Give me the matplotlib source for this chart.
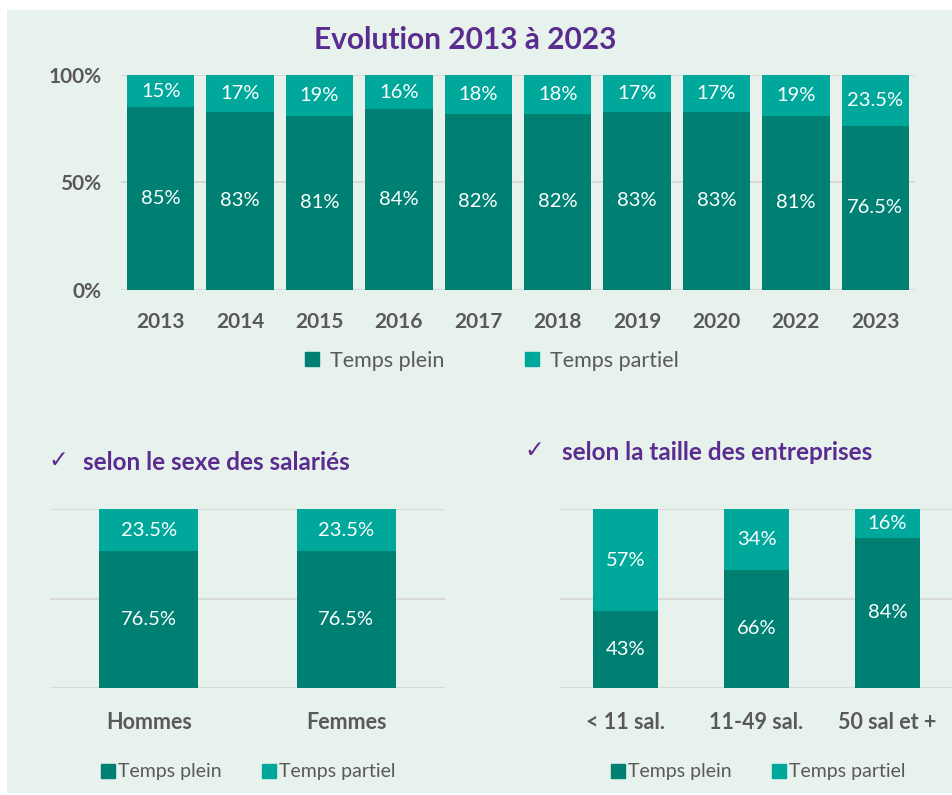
import matplotlib
matplotlib.use("Agg")
import matplotlib.pyplot as plt
from matplotlib.patches import Rectangle
from matplotlib.lines import Line2D

plt.rcParams['font.family'] = ['Lato', 'DejaVu Sans']

# ---- data ----
years = ["2013", "2014", "2015", "2016", "2017", "2018", "2019", "2020", "2022", "2023"]
plein_years = [85, 83, 81, 84, 82, 82, 83, 83, 81, 76.5]
partiel_years = [15, 17, 19, 16, 18, 18, 17, 17, 19, 23.5]

sexes = ["Hommes", "Femmes"]
plein_sexe = [76.5, 76.5]
partiel_sexe = [23.5, 23.5]

tailles = ["< 11 sal.", "11-49 sal.", "50 sal et +"]
plein_taille = [43, 66, 84]
partiel_taille = [57, 34, 16]

series_names = ["Temps plein", "Temps partiel"]
yticks_top = [0, 50, 100]
ytick_labels_top = ["0%", "50%", "100%"]

# ---- style ----
DARK = "#007F73"
LIGHT = "#00A89C"
BG = "#E8F2ED"
GRID = "#D9D9D9"
GRAY = "#595959"
PURPLE = "#5B2C8F"

W, H = 952, 795
fig = plt.figure(figsize=(W / 100, H / 100), dpi=100, facecolor="white")
fig.patches.append(Rectangle((7 / W, 2 / H), 1 - 7 / W, 1 - 12 / H,
                             transform=fig.transFigure, facecolor=BG,
                             edgecolor="none", zorder=-10))


def px_axes(x0, x1, ytop, ybot):
    return fig.add_axes([x0 / W, 1 - ybot / H, (x1 - x0) / W, (ybot - ytop) / H])


def draw(ax, cats, plein, partiel, width, lab_size, tick_size, pad):
    ax.set_facecolor("none")
    x = list(range(len(cats)))
    b1 = ax.bar(x, plein, width=width, color=DARK, zorder=3)
    b2 = ax.bar(x, partiel, width=width, bottom=plein, color=LIGHT, zorder=3)
    fmt = lambda v: f"{v:g}%"
    ax.bar_label(b1, labels=[fmt(v) for v in plein], label_type="center",
                 color="white", fontsize=lab_size)
    ax.bar_label(b2, labels=[fmt(v) for v in partiel], label_type="center",
                 color="white", fontsize=lab_size)
    ax.set_xlim(-0.5, len(cats) - 0.5)
    ax.set_ylim(0, 100)
    ax.set_yticks(yticks_top)
    ax.yaxis.grid(True, color=GRID, linewidth=1.6, zorder=0)
    ax.set_axisbelow(True)
    for s in ax.spines.values():
        s.set_visible(False)
    ax.set_xticks(x)
    ax.set_xticklabels(cats, fontsize=tick_size, fontweight="bold", color=GRAY)
    ax.tick_params(axis="x", length=0, pad=pad)
    ax.tick_params(axis="y", length=0)


# top chart
ax1 = px_axes(121, 915, 75, 290)
draw(ax1, years, plein_years, partiel_years, 0.85, 14.5, 15, 16)
ax1.set_yticklabels(ytick_labels_top, fontsize=15, fontweight="bold", color=GRAY)
ax1.tick_params(axis="y", pad=14)

# bottom left
ax2 = px_axes(50, 445, 509, 688)
draw(ax2, sexes, plein_sexe, partiel_sexe, 0.5, 14.5, 15.5, 17)
ax2.set_yticklabels([])

# bottom right
ax3 = px_axes(560, 953, 509, 688)
draw(ax3, tailles, plein_taille, partiel_taille, 0.5, 14.5, 15.5, 17)
ax3.set_yticklabels([])

# titles
fig.text(465 / W, 1 - 40 / H, "Evolution 2013 à 2023", ha="center", va="center",
         fontsize=21.5, fontweight="bold", color=PURPLE)
fig.text(48 / W, 1 - 460 / H, "✓", ha="left", va="center", fontsize=17,
         color=PURPLE, family=["DejaVu Sans"])
fig.text(83 / W, 1 - 462 / H, "selon le sexe des salariés", ha="left", va="center",
         fontsize=17.5, fontweight="bold", color=PURPLE)
fig.text(524 / W, 1 - 450 / H, "✓", ha="left", va="center", fontsize=17,
         color=PURPLE, family=["DejaVu Sans"])
fig.text(562 / W, 1 - 452 / H, "selon la taille des entreprises", ha="left", va="center",
         fontsize=17.5, fontweight="bold", color=PURPLE)


def handles():
    return [Line2D([], [], marker="s", linestyle="none", markersize=10,
                   markerfacecolor=c, markeredgecolor=c) for c in (DARK, LIGHT)]


fig.legend(handles(), series_names, loc="center", bbox_to_anchor=(490 / W, 1 - 361 / H),
           ncol=2, frameon=False, fontsize=15.5, labelcolor=GRAY, handletextpad=0.3,
           columnspacing=3.6, handlelength=1.0)
fig.legend(handles(), series_names, loc="center", bbox_to_anchor=(247 / W, 1 - 772 / H),
           ncol=2, frameon=False, fontsize=14, labelcolor=GRAY, handletextpad=0.05,
           columnspacing=1.9, handlelength=1.0)
fig.legend(handles(), series_names, loc="center", bbox_to_anchor=(757 / W, 1 - 772 / H),
           ncol=2, frameon=False, fontsize=14, labelcolor=GRAY, handletextpad=0.05,
           columnspacing=1.9, handlelength=1.0)

fig.savefig("out.png", dpi=100, facecolor="white")
